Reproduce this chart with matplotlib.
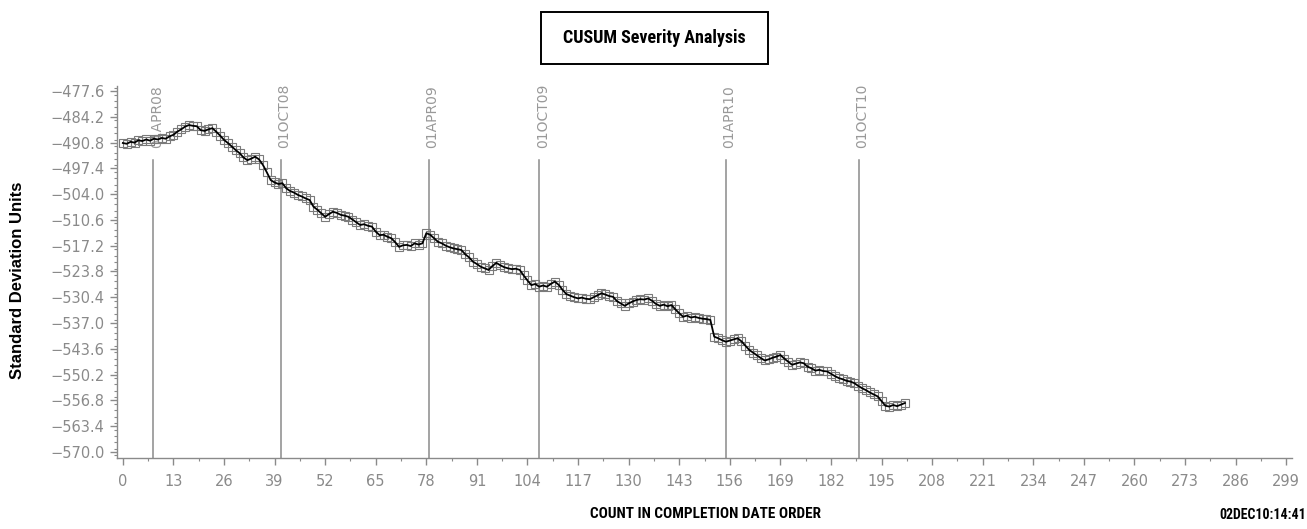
import matplotlib
matplotlib.use("Agg")
import matplotlib.pyplot as plt
from matplotlib import font_manager
from matplotlib.patches import Rectangle
from matplotlib.ticker import FixedLocator, MultipleLocator

# ---------------- data ----------------
cusum_values = [
    -490.9, -491.1, -490.6, -490.8, -490.2, -490.4, -490.0, -490.3, -489.8, -490.0,
    -489.6, -489.8, -489.2, -488.8, -488.0, -487.4, -486.7, -486.3, -486.5, -486.6,
    -487.6, -487.8, -487.4, -487.1, -488.0, -489.0, -490.1, -490.9, -491.8, -492.7,
    -493.5, -494.6, -495.3, -494.9, -494.4, -495.1, -496.5, -498.4, -500.4, -501.0,
    -501.4, -501.2, -502.5, -503.2, -503.6, -504.2, -504.6, -505.1, -505.5, -507.2,
    -508.0, -508.9, -509.8, -509.1, -508.5, -508.8, -509.3, -509.5, -509.8, -510.5,
    -511.2, -511.9, -511.7, -512.1, -512.3, -513.6, -514.5, -514.4, -514.9, -515.3,
    -516.3, -517.5, -517.1, -517.0, -517.3, -516.6, -516.9, -516.6, -514.0, -514.4,
    -515.3, -516.2, -516.6, -517.2, -517.6, -517.9, -518.1, -518.3, -519.4, -520.2,
    -521.3, -521.9, -522.6, -523.0, -523.4, -522.4, -521.6, -522.2, -522.7, -523.0,
    -523.2, -523.1, -523.4, -524.8, -526.1, -527.3, -527.0, -527.7, -527.4, -527.7,
    -527.0, -526.4, -527.2, -528.5, -529.6, -530.0, -530.4, -530.7, -530.5, -530.8,
    -530.9, -530.4, -529.9, -529.4, -529.7, -530.1, -530.3, -531.4, -532.0, -532.6,
    -532.0, -531.5, -531.1, -530.9, -531.0, -530.7, -531.3, -532.1, -532.6, -532.3,
    -532.7, -532.4, -533.5, -534.5, -535.4, -535.1, -535.6, -535.4, -535.7, -535.9,
    -536.0, -536.2, -540.5, -540.9, -541.4, -541.8, -541.5, -541.2, -540.9, -541.7,
    -542.8, -543.9, -544.6, -545.3, -546.0, -546.6, -546.3, -545.9, -545.6, -545.2,
    -546.1, -546.9, -547.7, -547.4, -547.1, -547.3, -548.2, -548.6, -549.2, -549.0,
    -549.3, -549.4, -550.0, -550.6, -551.1, -551.4, -551.8, -552.0, -552.4, -553.1,
    -553.7, -554.2, -554.8, -555.3, -555.8, -557.0, -558.2, -558.4, -558.0, -558.3,
    -557.9, -557.5,
]
counts = list(range(len(cusum_values)))

ref_positions = [7.8, 40.6, 78.7, 107.0, 155.0, 189.2]
ref_labels = ["01APR08", "01OCT08", "01APR09", "01OCT09", "01APR10", "01OCT10"]

x_ticks = [0, 13, 26, 39, 52, 65, 78, 91, 104, 117, 130, 143, 156, 169, 182,
           195, 208, 221, 234, 247, 260, 273, 286, 299]
y_ticks = [-477.6, -484.2, -490.8, -497.4, -504.0, -510.6, -517.2, -523.8,
           -530.4, -537.0, -543.6, -550.2, -556.8, -563.4, -570.0]

title_text = "CUSUM Severity Analysis"
x_label = "COUNT IN COMPLETION DATE ORDER"
y_label = "Standard Deviation Units"
stamp_text = "02DEC10:14:41"

# ---------------- fonts ----------------
available = {f.name for f in font_manager.fontManager.ttflist}
def pick(cands):
    for c in cands:
        if c in available:
            return c
    return "DejaVu Sans"

narrow = pick(["Liberation Sans Narrow", "Roboto Condensed", "DejaVu Sans Condensed",
               "Liberation Sans"])
sans = pick(["Liberation Sans", "DejaVu Sans"])
tickfont = pick(["Liberation Sans Narrow", "DejaVu Sans"])

GRAY = "#8a8a8a"

fig = plt.figure(figsize=(13.07, 5.29), dpi=100)
ax = fig.add_axes([117 / 1307, 1 - 457.7 / 529, (1292 - 117) / 1307, (457.7 - 86) / 529])

ax.set_xlim(-1.5, 300.5)
ax.set_ylim(-571.5, -476.3)

# reference date lines
for pos, lab in zip(ref_positions, ref_labels):
    ax.axvline(pos, ymin=0, ymax=0.80, color=GRAY, lw=1.1, zorder=1)
    ax.text(pos + 0.9, -492.3, lab, rotation=90, ha="center", va="bottom",
            color="#999999", fontsize=10, family="DejaVu Sans", zorder=1)

# markers then line
ax.plot(counts, cusum_values, linestyle="none", marker="s", markersize=6,
        markerfacecolor="none", markeredgecolor="#7a7a7a", markeredgewidth=0.8, zorder=2)
ax.plot(counts, cusum_values, color="black", lw=1.3, zorder=3)

for s in ["top", "right"]:
    ax.spines[s].set_visible(False)
for s in ["left", "bottom"]:
    ax.spines[s].set_color(GRAY)
    ax.spines[s].set_linewidth(1.0)

ax.xaxis.set_major_locator(FixedLocator(x_ticks))
ax.xaxis.set_minor_locator(FixedLocator([t + 6.5 for t in x_ticks[:-1]]))
ax.set_xticklabels([str(t) for t in x_ticks])
ax.yaxis.set_major_locator(FixedLocator(y_ticks))
ax.yaxis.set_minor_locator(MultipleLocator(1.65))
ax.set_yticklabels([f"{t:.1f}".replace("-", "\u2212") for t in y_ticks])

ax.tick_params(axis="both", which="major", colors=GRAY, labelcolor=GRAY,
               direction="out", length=5, width=1.0, labelsize=10.5)
ax.tick_params(axis="both", which="minor", colors=GRAY, direction="out",
               length=2.5, width=0.8)
ax.tick_params(axis="x", which="major", pad=7)
ax.tick_params(axis="y", which="major", pad=4)
for lab in ax.get_xticklabels() + ax.get_yticklabels():
    lab.set_family(tickfont)

# title box
bx0, by0 = 540.7 / 1307, 1 - 64 / 529
bw, bh = (767.7 - 540.7) / 1307, (64 - 11.7) / 529
fig.patches.append(Rectangle((bx0, by0), bw, bh, transform=fig.transFigure,
                             fill=False, edgecolor="black", lw=1.4))
fig.text(bx0 + bw / 2, by0 + bh / 2, title_text, ha="center", va="center",
         fontsize=13, fontweight="bold", family=narrow)

fig.text(18 / 1307, 1 - 280 / 529, y_label, rotation=90, ha="center", va="center",
         fontsize=12, fontweight="bold", family=sans)
fig.text(705 / 1307, 1 - 514 / 529, x_label, ha="center", va="center",
         fontsize=11, fontweight="bold", family=narrow)
fig.text(1306 / 1307, 1 - 515 / 529, stamp_text, ha="right", va="center",
         fontsize=10, fontweight="bold", family=narrow)

fig.savefig("out.png", dpi=100)
